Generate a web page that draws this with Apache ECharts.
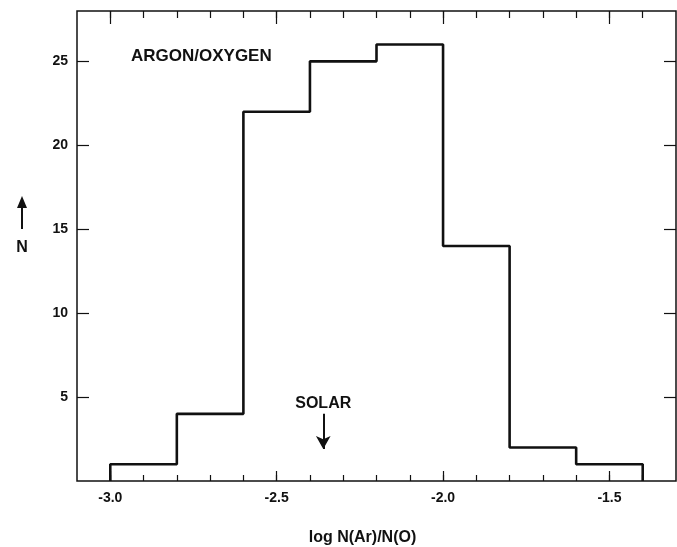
<!DOCTYPE html>
<html>
<head>
<meta charset="utf-8">
<script src="https://cdn.jsdelivr.net/npm/echarts@6/dist/echarts.min.js"></script>
<style>
  html, body { margin: 0; padding: 0; background: #fff; }
  #chart { width: 677px; height: 547px; }
</style>
</head>
<body>
<div id="chart"></div>
<script>
// Histogram of log N(Ar)/N(O): bin edges and number of objects per bin
const binEdges = [-3.0, -2.8, -2.6, -2.4, -2.2, -2.0, -1.8, -1.6, -1.4];
const counts = [1, 4, 22, 25, 26, 14, 2, 1];

// Axis ticks and labels
const xMajorTicks = [-3.0, -2.5, -2.0, -1.5];
const xMinorTicks = [-3.0, -2.9, -2.8, -2.7, -2.6, -2.5, -2.4, -2.3, -2.2, -2.1,
                     -2.0, -1.9, -1.8, -1.7, -1.6, -1.5, -1.4];
const yTicks = [5, 10, 15, 20, 25];

// Solar abundance marker
const solarValue = -2.36;
const solarArrowFrom = 4.0;
const solarArrowTo = 1.9;

// Closed step outline of the histogram
const outline = [[binEdges[0], 0]];
counts.forEach((c, i) => {
  outline.push([binEdges[i], c]);
  outline.push([binEdges[i + 1], c]);
});
outline.push([binEdges[binEdges.length - 1], 0]);

const FONT = '"Liberation Sans", Arial, Helvetica, sans-serif';
const INK = '#111';

const chart = echarts.init(document.getElementById('chart'));

const baseX = {
  type: 'value', min: -3.1, max: -1.3,
  splitLine: { show: false },
  axisLine: { show: false }
};

chart.setOption({
  animation: false,
  backgroundColor: '#fff',
  title: {
    text: 'ARGON/OXYGEN',
    left: 126, top: 43,
    textStyle: { fontFamily: FONT, fontSize: 17, fontWeight: 'bold', color: INK }
  },
  grid: {
    left: 77, right: 1, top: 11, bottom: 66,
    outerBoundsMode: 'none', containLabel: false,
    show: true, borderColor: INK, borderWidth: 1.5, backgroundColor: 'transparent'
  },
  xAxis: [
    // bottom: minor ticks, labels and axis name
    Object.assign({}, baseX, {
      position: 'bottom',
      axisTick: { show: true, inside: true, length: 6, customValues: xMinorTicks,
                  lineStyle: { color: INK, width: 1.2 } },
      axisLabel: { show: true, customValues: xMajorTicks, margin: 10,
                   formatter: v => v.toFixed(1),
                   fontFamily: FONT, fontSize: 14, fontWeight: 'bold', color: INK },
      name: 'log N(Ar)/N(O)',
      nameLocation: 'middle', nameGap: 49,
      nameTextStyle: { fontFamily: FONT, fontSize: 16, fontWeight: 'bold', color: INK,
                       padding: [0, 28, 0, 0] }
    }),
    // bottom: major ticks
    Object.assign({}, baseX, {
      position: 'bottom',
      axisTick: { show: true, inside: true, length: 10, customValues: xMajorTicks,
                  lineStyle: { color: INK, width: 1.2 } },
      axisLabel: { show: false }
    }),
    // top: minor ticks
    Object.assign({}, baseX, {
      position: 'top',
      axisTick: { show: true, inside: true, length: 7, customValues: xMinorTicks,
                  lineStyle: { color: INK, width: 1.2 } },
      axisLabel: { show: false }
    }),
    // top: major ticks
    Object.assign({}, baseX, {
      position: 'top',
      axisTick: { show: true, inside: true, length: 13, customValues: xMajorTicks,
                  lineStyle: { color: INK, width: 1.2 } },
      axisLabel: { show: false }
    })
  ],
  yAxis: [
    {
      type: 'value', min: 0, max: 28, position: 'left',
      splitLine: { show: false }, axisLine: { show: false },
      axisTick: { show: true, inside: true, length: 12, customValues: yTicks,
                  lineStyle: { color: INK, width: 1.2 } },
      axisLabel: { show: true, customValues: yTicks, margin: 9,
                   fontFamily: FONT, fontSize: 14, fontWeight: 'bold', color: INK }
    },
    {
      type: 'value', min: 0, max: 28, position: 'right',
      splitLine: { show: false }, axisLine: { show: false },
      axisTick: { show: true, inside: true, length: 12, customValues: yTicks,
                  lineStyle: { color: INK, width: 1.2 } },
      axisLabel: { show: false }
    }
  ],
  series: [{
    type: 'line',
    xAxisIndex: 0, yAxisIndex: 0,
    data: outline,
    symbol: 'none',
    lineStyle: { color: INK, width: 2.6 },
    markLine: {
      silent: true,
      symbol: ['none', 'arrow'],
      symbolSize: [11, 13],
      lineStyle: { color: INK, width: 2, type: 'solid' },
      label: { show: true, position: 'start', distance: 2, formatter: 'SOLAR',
               fontFamily: FONT, fontSize: 16, fontWeight: 'bold', color: INK },
      data: [[{ coord: [solarValue, solarArrowFrom] }, { coord: [solarValue, solarArrowTo] }]]
    }
  }],
  graphic: [
    // "N" with an upward arrow beside the y axis
    { type: 'line', shape: { x1: 22, y1: 229, x2: 22, y2: 205 },
      style: { stroke: INK, lineWidth: 2 } },
    { type: 'polygon', shape: { points: [[22, 196], [17, 208], [27, 208]] },
      style: { fill: INK } },
    { type: 'text', x: 22, y: 248,
      style: { text: 'N', fontFamily: FONT, fontSize: 16, fontWeight: 'bold', fill: INK,
               align: 'center', verticalAlign: 'middle' } }
  ]
});
</script>
</body>
</html>
